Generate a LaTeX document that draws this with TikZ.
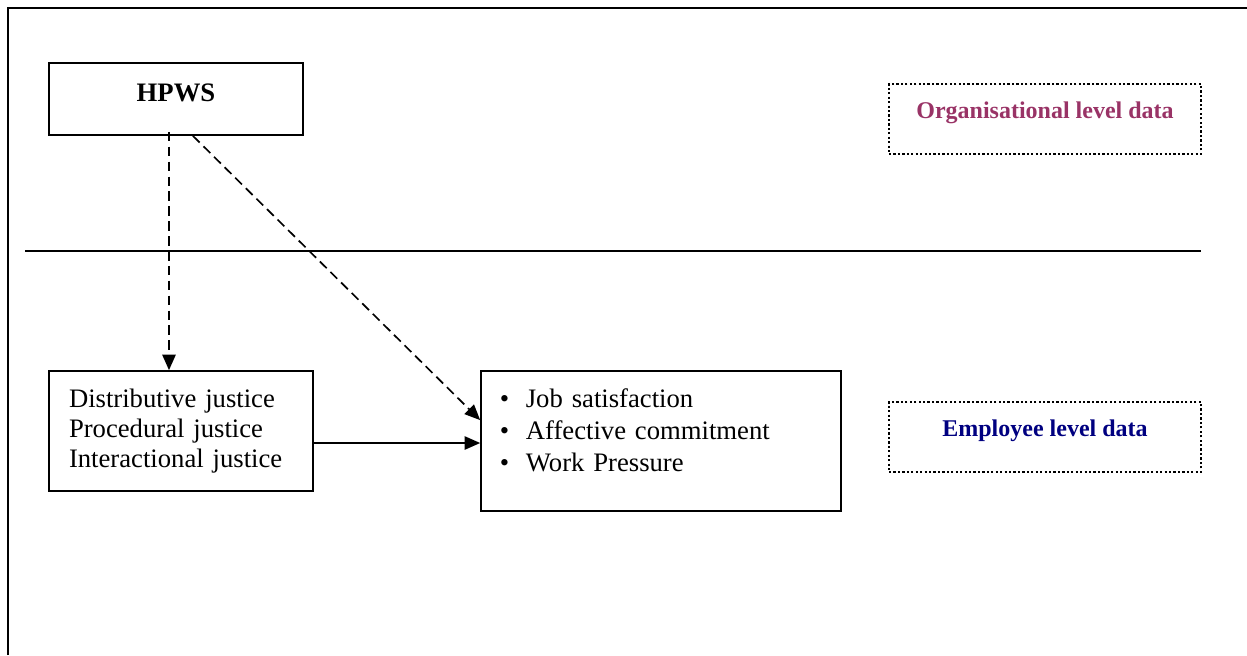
\documentclass[tikz,border=0pt]{standalone}
\usepackage{fontspec}
\setmainfont{Liberation Serif}
\usepackage{tikz}
\usetikzlibrary{arrows.meta}
\definecolor{orgplum}{HTML}{993366}
\definecolor{empnavy}{HTML}{000080}

\begin{document}
\begin{tikzpicture}[x=0.45pt,y=-0.45pt,
    box/.style={draw,line width=0.75pt,rectangle,inner sep=0pt},
    levelbox/.style={draw,densely dotted,line width=1pt,rectangle,inner sep=0pt,
      minimum width=140.4pt,text height=15.3pt,text depth=16.2pt,font=\bfseries\fontsize{10.8}{13}\selectfont},
    dasharrow/.style={line width=0.75pt,dash pattern=on 4.3pt off 2.4pt,-{Triangle[length=7pt,width=6pt]}},
    solidarrow/.style={line width=0.75pt,-{Triangle[length=7pt,width=6pt]}}]
  \useasboundingbox (0,0) rectangle (1247,655);
  % frame and level divider
  \draw[line width=1.2pt] (8,655) -- (8,8) -- (1247,8);
  \draw[line width=0.75pt] (25,251) -- (1201,251);

  \node[box,minimum width=114.3pt,text height=17.1pt,text depth=15.3pt,
    font=\bfseries\fontsize{12}{14}\selectfont] (hpws) at (176,99) {HPWS};
  \node[box,minimum width=118.8pt,minimum height=54pt,inner xsep=9pt,text width=100.8pt,
    align=left,font=\fontsize{12}{13.5}\selectfont] (just) at (181,431)
    {Distributive justice\\Procedural justice\\Interactional justice};
  \node[box,minimum width=162pt,minimum height=63pt,inner xsep=8.5pt,text width=145pt,
    align=left,font=\fontsize{12}{14.6}\selectfont] (outcome) at (661,441)
    {\raisebox{3.6pt}[\height][\depth]{\begin{tabular}{@{}l@{}}
      \makebox[11.7pt][l]{\textbullet}Job satisfaction\\
      \makebox[11.7pt][l]{\textbullet}Affective commitment\\
      \makebox[11.7pt][l]{\textbullet}Work Pressure
    \end{tabular}}};

  \node[levelbox,text=orgplum] (org) at (1045,119) {Organisational level data};
  \node[levelbox,text=empnavy] (emp) at (1045,437) {Employee level data};

  \coordinate (vtip) at ([xshift=-5.4pt]just.north);
  \draw[dasharrow] ([yshift=1.8pt]hpws.south -| vtip) -- (vtip);
  \draw[dasharrow] ([xshift=7.6pt]hpws.south) -- ([yshift=9.4pt]outcome.west);
  \coordinate (hin) at ([yshift=-5.4pt]just.east);
  \draw[solidarrow] (hin) -- (hin -| outcome.west);
\end{tikzpicture}
\end{document}
